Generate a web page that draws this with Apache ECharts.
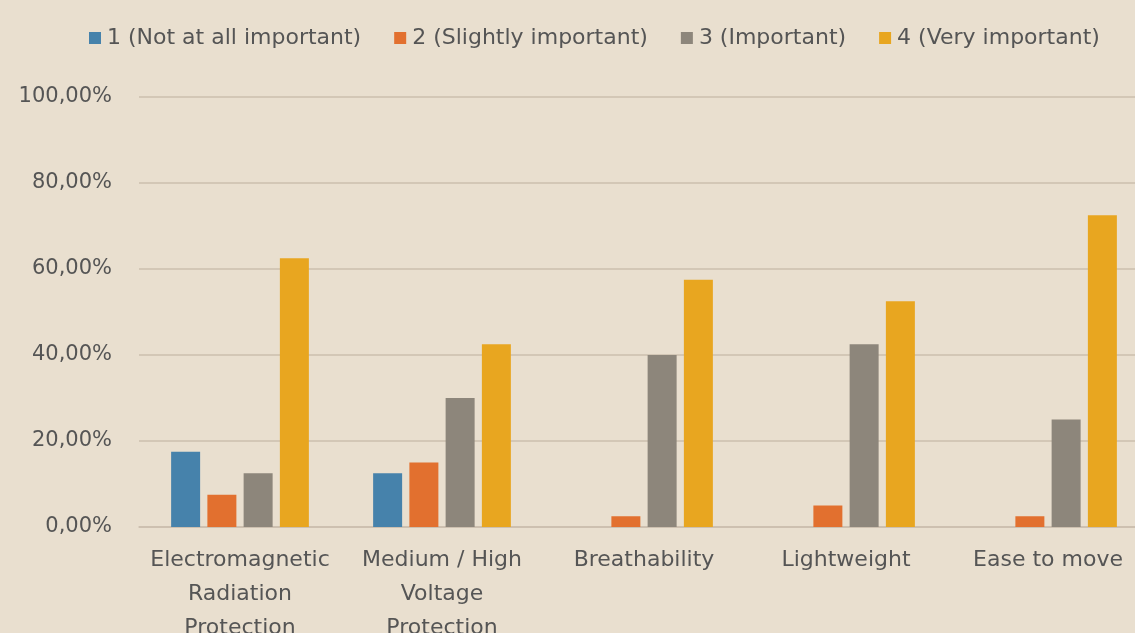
<!DOCTYPE html>
<html>
<head>
<meta charset="utf-8">
<script src="https://cdn.jsdelivr.net/npm/echarts@6/dist/echarts.min.js"></script>
<style>
  html, body { margin: 0; padding: 0; background: #e9dfcf; }
  #chart { width: 1135px; height: 633px; }
</style>
</head>
<body>
<div id="chart"></div>
<script>
// Importance ratings per garment feature (share of respondents)
const categories = [
  'Electromagnetic\nRadiation\nProtection',
  'Medium / High\nVoltage\nProtection',
  'Breathability',
  'Lightweight',
  'Ease to move'
];
const seriesNames = [
  '1 (Not at all important)',
  '2 (Slightly important)',
  '3 (Important)',
  '4 (Very important)'
];
const notAtAll = [17.5, 12.5, 0, 0, 0];
const slightly = [7.5, 15, 2.5, 5, 2.5];
const important = [12.5, 30, 40, 42.5, 25];
const veryImportant = [62.5, 42.5, 57.5, 52.5, 72.5];
const yTicks = [0, 20, 40, 60, 80, 100];

const colors = ['#4682ab', '#e2702f', '#8d867b', '#e8a620'];
const values = [notAtAll, slightly, important, veryImportant];
const font = '"DejaVu Sans", sans-serif';
const textColor = '#555555';
const gridColor = '#cbbfae';

const chart = echarts.init(document.getElementById('chart'));
chart.setOption({
  backgroundColor: '#e9dfcf',
  animation: false,
  color: colors,
  legend: {
    top: 22,
    left: 84,
    itemWidth: 12,
    itemHeight: 12,
    itemGap: 33,
    icon: 'rect',
    textStyle: { color: textColor, fontFamily: font, fontSize: 22, padding: [0, 0, 0, 1] },
    data: seriesNames
  },
  grid: {
    left: 139, top: 97, width: 1010, bottom: 106,
    containLabel: false, outerBoundsMode: 'none'
  },
  xAxis: {
    type: 'category',
    data: categories,
    axisLine: { show: true, lineStyle: { color: gridColor, width: 1.5 } },
    axisTick: { show: false },
    axisLabel: {
      color: textColor, fontFamily: font, fontSize: 22,
      lineHeight: 34, margin: 16, interval: 0
    }
  },
  yAxis: {
    type: 'value',
    min: yTicks[0],
    max: yTicks[yTicks.length - 1],
    interval: 20,
    axisLine: { show: false },
    axisTick: { show: false },
    splitLine: { lineStyle: { color: gridColor, width: 1.5 } },
    axisLabel: {
      color: textColor, fontFamily: font, fontSize: 21, margin: 27,
      formatter: v => v.toFixed(2).replace('.', ',') + '%'
    }
  },
  series: seriesNames.map((name, i) => ({
    name,
    type: 'bar',
    data: values[i],
    barWidth: 29,
    barGap: '25%',
    itemStyle: { color: colors[i] }
  }))
});
</script>
</body>
</html>
